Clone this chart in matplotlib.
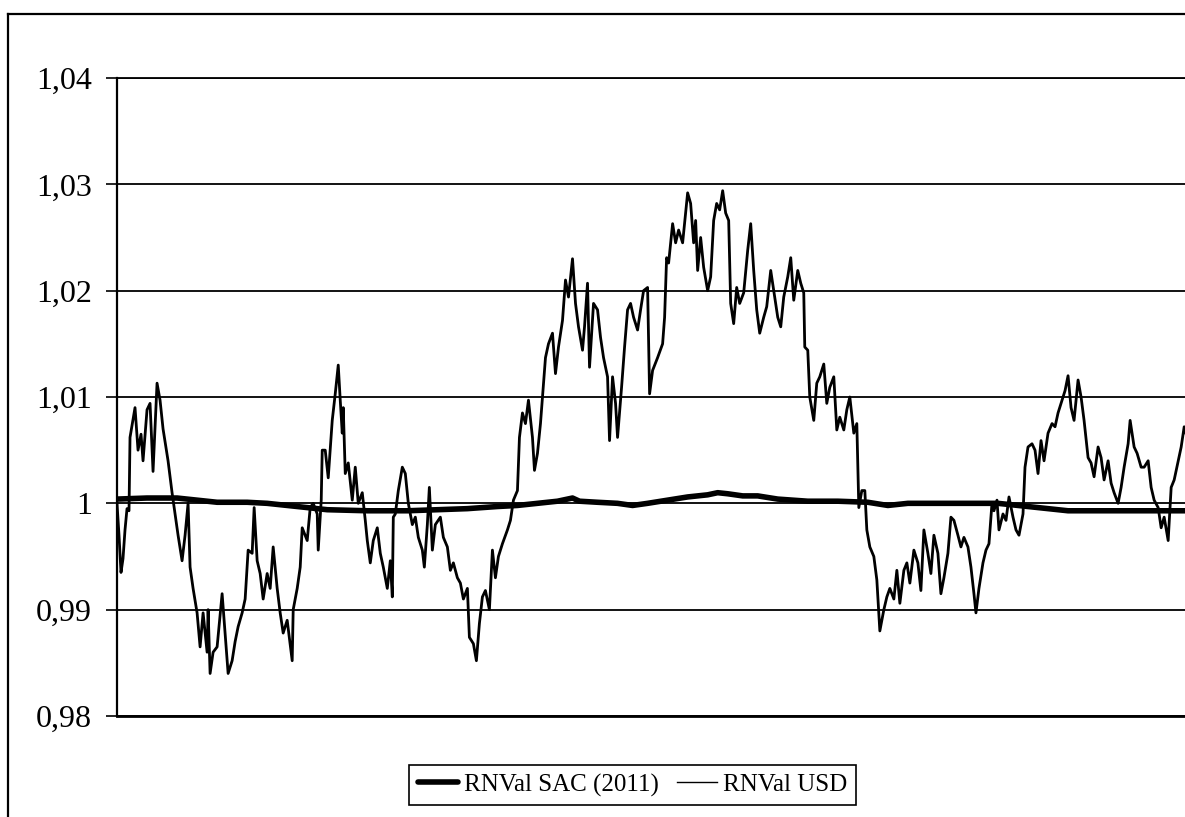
import matplotlib
matplotlib.use("Agg")
import matplotlib.pyplot as plt
from matplotlib.lines import Line2D

# ---- data (time index) ----
usd_t = [0, 2, 4, 6, 8, 10, 12, 13, 18, 21, 24, 26, 30, 33, 36, 40, 43, 46, 51, 55, 58, 61, 65, 68, 71, 73, 76,
         80, 83, 86, 90, 91, 93, 96, 100, 105, 108, 111, 115, 118, 121, 125, 128, 131, 135, 137, 140, 143,
         146, 150, 153, 156, 160, 163, 166, 170, 175, 176, 180, 183, 185, 190, 193, 196, 200, 201, 204, 205,
         208, 211, 215, 218, 221, 223, 225, 226, 228, 231, 235, 238, 241, 245, 248, 250, 253, 256, 260, 263,
         266, 270, 273, 275, 276, 278, 281, 285, 288, 291, 295, 298, 301, 305, 307, 310, 312, 315, 318, 323,
         326, 330, 333, 336, 340, 343, 346, 350, 352, 356, 359, 362, 365, 368, 372, 375, 378, 381, 385, 390,
         393, 396, 400, 402, 405, 408, 411, 415, 417, 420, 423, 426, 428, 431, 435, 438, 441, 445, 448, 451,
         455, 458, 461, 465, 467, 470, 472, 476, 480, 483, 486, 490, 492, 495, 498, 500, 504, 507, 510, 513,
         516, 520, 523, 526, 530, 532, 535, 540, 545, 547, 549, 551, 555, 558, 561, 565, 568, 570, 573, 576,
         578, 580, 583, 586, 590, 593, 596, 599, 602, 605, 608, 611, 613, 616, 619, 622, 626, 630, 633, 636,
         639, 642, 646, 649, 653, 656, 660, 663, 666, 670, 673, 676, 680, 683, 686, 687, 690, 692, 696, 699,
         702, 706, 709, 712, 716, 719, 722, 726, 729, 732, 736, 739, 741, 744, 747, 749, 752, 756, 759, 762,
         766, 769, 772, 776, 779, 782, 786, 789, 792, 796, 800, 803, 806, 810, 813, 816, 820, 823, 826, 830,
         833, 836, 840, 843, 846, 850, 853, 856, 858, 861, 865, 868, 871, 874, 876, 879, 881, 885, 888, 891,
         895, 898, 901, 905, 907, 910, 914, 917, 920, 923, 926, 930, 934, 937, 940, 944, 947, 950, 953, 956,
         960, 963, 966, 970, 973, 976, 980, 983, 986, 990, 993, 996, 1000, 1003, 1006, 1010, 1012, 1016, 1019,
         1023, 1026, 1030, 1033, 1036, 1040, 1043, 1046, 1050, 1053, 1056, 1060, 1063, 1066, 1068]
usd_v = [1.0000, 0.9970, 0.9935, 0.9948, 0.9975, 0.9995, 0.9993, 1.0062, 1.0090, 1.0050, 1.0065, 1.0040,
         1.0088, 1.0094, 1.0030, 1.0113, 1.0097, 1.0070, 1.0040, 1.0010, 0.9990, 0.9970, 0.9946, 0.9970,
         1.0000, 0.9940, 0.9920, 0.9897, 0.9865, 0.9897, 0.9860, 0.9900, 0.9840, 0.9860, 0.9865, 0.9915,
         0.9878, 0.9840, 0.9852, 0.9870, 0.9884, 0.9897, 0.9910, 0.9956, 0.9953, 0.9996, 0.9946, 0.9934,
         0.9910, 0.9934, 0.9920, 0.9959, 0.9920, 0.9897, 0.9878, 0.9890, 0.9852, 0.9900, 0.9920, 0.9940,
         0.9977, 0.9965, 0.9996, 1.0000, 0.9990, 0.9956, 1.0003, 1.0050, 1.0050, 1.0024, 1.0078, 1.0103,
         1.0130, 1.0097, 1.0066, 1.0090, 1.0028, 1.0038, 1.0003, 1.0034, 1.0000, 1.0010, 0.9984, 0.9965,
         0.9944, 0.9965, 0.9977, 0.9953, 0.9940, 0.9920, 0.9946, 0.9912, 0.9987, 0.9990, 1.0012, 1.0034,
         1.0028, 1.0000, 0.9980, 0.9987, 0.9968, 0.9956, 0.9940, 0.9980, 1.0015, 0.9956, 0.9980, 0.9987,
         0.9968, 0.9959, 0.9937, 0.9944, 0.9930, 0.9925, 0.9910, 0.9920, 0.9874, 0.9868, 0.9852, 0.9887,
         0.9912, 0.9918, 0.9900, 0.9956, 0.9930, 0.9950, 0.9962, 0.9975, 0.9984, 1.0003, 1.0012, 1.0062,
         1.0085, 1.0075, 1.0097, 1.0062, 1.0031, 1.0047, 1.0075, 1.0113, 1.0137, 1.0150, 1.0160, 1.0122,
         1.0147, 1.0172, 1.0210, 1.0194, 1.0230, 1.0188, 1.0166, 1.0144, 1.0166, 1.0207, 1.0128, 1.0188,
         1.0182, 1.0156, 1.0137, 1.0119, 1.0059, 1.0119, 1.0094, 1.0062, 1.0109, 1.0147, 1.0182, 1.0188,
         1.0175, 1.0163, 1.0182, 1.0200, 1.0203, 1.0103, 1.0125, 1.0137, 1.0150, 1.0175, 1.0231, 1.0226,
         1.0263, 1.0245, 1.0257, 1.0245, 1.0273, 1.0292, 1.0282, 1.0245, 1.0266, 1.0219, 1.0250, 1.0222,
         1.0200, 1.0213, 1.0266, 1.0282, 1.0276, 1.0294, 1.0273, 1.0266, 1.0188, 1.0169, 1.0203, 1.0188,
         1.0198, 1.0238, 1.0263, 1.0219, 1.0182, 1.0160, 1.0175, 1.0185, 1.0219, 1.0200, 1.0175, 1.0166,
         1.0194, 1.0213, 1.0231, 1.0191, 1.0219, 1.0207, 1.0198, 1.0147, 1.0144, 1.0100, 1.0078, 1.0113,
         1.0119, 1.0131, 1.0094, 1.0109, 1.0119, 1.0069, 1.0081, 1.0069, 1.0088, 1.0100, 1.0066, 1.0075,
         0.9996, 1.0012, 1.0012, 0.9975, 0.9959, 0.9950, 0.9928, 0.9880, 0.9900, 0.9912, 0.9920, 0.9910,
         0.9937, 0.9906, 0.9937, 0.9944, 0.9925, 0.9956, 0.9944, 0.9918, 0.9975, 0.9953, 0.9934, 0.9970,
         0.9953, 0.9915, 0.9930, 0.9953, 0.9987, 0.9984, 0.9970, 0.9959, 0.9968, 0.9959, 0.9940, 0.9915,
         0.9897, 0.9920, 0.9944, 0.9956, 0.9962, 1.0000, 0.9993, 1.0003, 0.9975, 0.9990, 0.9984, 1.0006,
         0.9987, 0.9975, 0.9970, 0.9990, 1.0034, 1.0053, 1.0056, 1.0050, 1.0028, 1.0059, 1.0040, 1.0066,
         1.0075, 1.0072, 1.0085, 1.0097, 1.0106, 1.0120, 1.0090, 1.0078, 1.0116, 1.0100, 1.0078, 1.0043,
         1.0038, 1.0025, 1.0053, 1.0043, 1.0022, 1.0040, 1.0019, 1.0010, 1.0000, 1.0015, 1.0034, 1.0056,
         1.0078, 1.0053, 1.0047, 1.0034, 1.0034, 1.0040, 1.0015, 1.0003, 0.9996, 0.9977, 0.9987, 0.9965,
         1.0015, 1.0022, 1.0040, 1.0053, 1.0072, 1.0065]

sac_t = [0, 30, 60, 80, 100, 130, 150, 180, 210, 250, 290, 320, 350, 380, 400, 420, 440, 450, 455, 462, 480,
         500, 515, 530, 550, 570, 590, 600, 610, 625, 640, 660, 690, 720, 750, 770, 790, 820, 850, 880, 900,
         930, 950, 1000, 1068]
sac_v = [1.0004, 1.0005, 1.0005, 1.0003, 1.0001, 1.0001, 1.0000, 0.9997, 0.9994, 0.9993, 0.9993, 0.9994,
         0.9995, 0.9997, 0.9998, 1.0000, 1.0002, 1.0004, 1.0005, 1.0002, 1.0001, 1.0000, 0.9998, 1.0000,
         1.0003, 1.0006, 1.0008, 1.0010, 1.0009, 1.0007, 1.0007, 1.0004, 1.0002, 1.0002, 1.0001, 0.9998,
         1.0000, 1.0000, 1.0000, 1.0000, 0.9998, 0.9995, 0.9993, 0.9993, 0.9993]

y_ticks = [0.98, 0.99, 1.00, 1.01, 1.02, 1.03, 1.04]
y_labels = ["0,98", "0,99", "1", "1,01", "1,02", "1,03", "1,04"]
series_names = ["RNVal SAC (2011)", "RNVal USD"]

plt.rcParams['font.family'] = ['Liberation Serif', 'DejaVu Serif']

W, H = 1185, 817
fig = plt.figure(figsize=(W / 100, H / 100), dpi=100)
fig.patch.set_facecolor('white')

# outer chart border (left and top visible)
fig.add_artist(Line2D([8 / W, 8 / W], [-0.1, 1 - 14 / H], transform=fig.transFigure, color='black', lw=1.6))
fig.add_artist(Line2D([8 / W, 1.1], [1 - 14 / H, 1 - 14 / H], transform=fig.transFigure, color='black', lw=1.6))

ax = fig.add_axes([117 / W, 1 - 716 / H, 1 - 117 / W + 0.001, (716 - 78) / H])
ax.set_xlim(0, 1068)
ax.set_ylim(0.98, 1.04)

ax.set_yticks(y_ticks)
ax.set_yticklabels(y_labels, fontsize=23)
ax.set_xticks([])
ax.tick_params(axis='y', direction='out', length=8, width=1.2, pad=10, colors='black')
ax.grid(axis='y', color='black', lw=1.3)
ax.set_axisbelow(True)
ax.spines['right'].set_visible(False)
ax.spines['top'].set_linewidth(1.3)
ax.spines['left'].set_linewidth(1.6)
ax.spines['bottom'].set_linewidth(2.0)

l1, = ax.plot(sac_t, sac_v, color='black', lw=4.0, solid_capstyle='round', zorder=3)
l2, = ax.plot(usd_t, usd_v, color='black', lw=2.0, zorder=4)

leg = fig.legend([l1, l2], series_names, loc='center', bbox_to_anchor=(632.5 / W, 1 - 785 / H),
                 bbox_transform=fig.transFigure, ncol=2, frameon=True, fancybox=False,
                 edgecolor='black', framealpha=1, fontsize=18, handlelength=1.6,
                 handletextpad=0.25, columnspacing=0.7, borderpad=0.35, borderaxespad=0)
leg.get_frame().set_linewidth(1.2)
leg.legend_handles[1].set_linewidth(1.0)

fig.savefig("out.png", dpi=100)
